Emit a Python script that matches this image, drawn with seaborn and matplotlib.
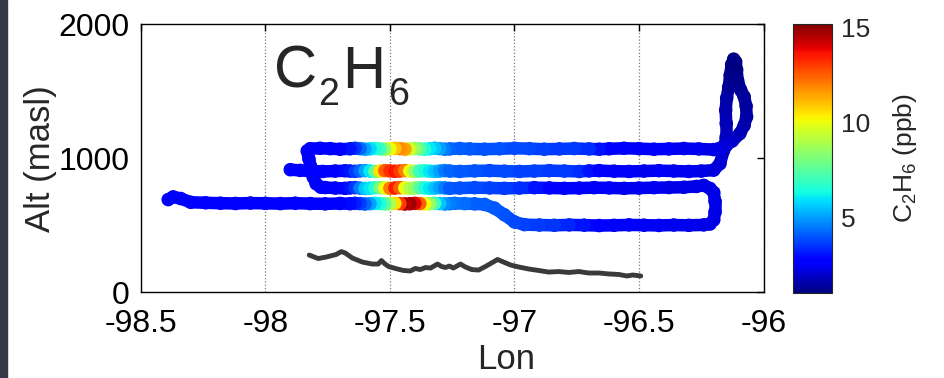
import numpy as np
import pandas as pd
import seaborn as sns
import matplotlib
matplotlib.use("Agg")
import matplotlib.pyplot as plt
from matplotlib.collections import LineCollection
from matplotlib.colors import Normalize
from matplotlib.patches import Rectangle
from matplotlib.cm import ScalarMappable

# ---- flight track, read off the picture leg by leg (in flight order) ----
# leg at ~905 m, flown east
l2_lon = [-97.90, -97.86, -97.82, -97.77, -97.72, -97.68,
          -97.66, -97.64, -97.62, -97.60, -97.58, -97.56, -97.54, -97.52, -97.50, -97.48, -97.46,
          -97.44, -97.42, -97.40, -97.38, -97.36, -97.34, -97.32, -97.30, -97.28, -97.26,
          -97.22, -97.16, -97.10, -97.04, -96.98, -96.92, -96.86, -96.80, -96.74,
          -96.70, -96.66, -96.60, -96.54, -96.48, -96.42, -96.36, -96.30, -96.25, -96.20]
l2_alt = [915, 910, 905, 902, 905, 907,
          905, 903, 906, 908, 905, 902, 905, 908, 906, 903, 905,
          908, 905, 902, 905, 907, 904, 902, 905, 908, 905,
          902, 906, 908, 904, 902, 905, 908, 905, 902,
          906, 908, 904, 902, 905, 908, 905, 902, 905, 912]
l2_ppb = [2.6, 2.6, 2.5, 2.6, 2.7, 2.9,
          3.0, 3.6, 4.2, 5.0, 6.0, 7.5, 10.5, 12.5, 13.2, 13.6, 13.0,
          12.0, 10.0, 8.5, 7.0, 6.5, 6.0, 5.5, 5.0, 4.5, 4.2,
          4.0, 3.9, 3.8, 3.8, 3.7, 3.7, 3.6, 3.6, 3.4,
          3.0, 2.6, 2.5, 2.5, 2.4, 2.5, 2.4, 2.4, 2.3, 2.2]

# climb to the top of the profile and back down
sp_lon = [-96.175, -96.160, -96.150, -96.150, -96.152, -96.148, -96.140, -96.134, -96.128, -96.120, -96.112,
          -96.108, -96.104, -96.092, -96.078, -96.070, -96.068, -96.078, -96.095, -96.125, -96.150, -96.175]
sp_alt = [960, 1060, 1160, 1260, 1360, 1450, 1530, 1620, 1700, 1740, 1720,
          1660, 1580, 1510, 1460, 1390, 1310, 1245, 1185, 1130, 1095, 1075]
sp_ppb = [2.1, 1.9, 1.8, 1.7, 1.6, 1.5, 1.3, 1.2, 1.1, 1.05, 1.1,
          1.1, 1.2, 1.3, 1.35, 1.4, 1.5, 1.6, 1.7, 1.9, 2.1, 2.2]

# top leg at ~1070 m, flown west
l1_lon = [-96.20, -96.26, -96.32, -96.38, -96.44, -96.50, -96.56, -96.62, -96.66, -96.70,
          -96.76, -96.82, -96.88, -96.94, -97.00, -97.06, -97.12, -97.18, -97.22,
          -97.26, -97.28, -97.30, -97.32, -97.34, -97.36, -97.38, -97.40, -97.42, -97.44, -97.46,
          -97.48, -97.50, -97.52, -97.54, -97.56, -97.58, -97.60, -97.62, -97.64, -97.66,
          -97.70, -97.74, -97.78, -97.82]
l1_alt = [1065, 1070, 1073, 1070, 1068, 1072, 1075, 1071, 1068, 1070,
          1073, 1070, 1068, 1072, 1075, 1071, 1068, 1070, 1073,
          1070, 1068, 1072, 1075, 1071, 1068, 1070, 1073, 1070, 1068, 1072,
          1075, 1071, 1068, 1070, 1073, 1070, 1068, 1072, 1075, 1071,
          1068, 1072, 1075, 1072]
l1_ppb = [2.3, 2.4, 2.4, 2.5, 2.5, 2.5, 2.6, 2.7, 3.0, 3.4,
          3.6, 3.6, 3.7, 3.8, 3.8, 3.9, 3.9, 4.0, 4.1,
          4.2, 4.5, 5.0, 5.5, 6.0, 6.5, 7.5, 8.5, 9.5, 11.5, 11.8,
          11.0, 10.0, 8.5, 7.0, 6.5, 5.8, 5.0, 4.2, 3.5, 3.0,
          2.7, 2.6, 2.6, 2.6]

# hook down to the third leg
hk_lon = [-97.832, -97.825, -97.816, -97.808, -97.796, -97.778]
hk_alt = [1055, 995, 930, 860, 810, 785]
hk_ppb = [2.6, 2.6, 2.6, 2.6, 2.6, 2.6]

# leg at ~780 m, flown east
l3_lon = [-97.76, -97.72, -97.68,
          -97.66, -97.64, -97.62, -97.60, -97.58, -97.56, -97.54, -97.52, -97.50, -97.48, -97.46,
          -97.44, -97.42, -97.40, -97.38, -97.36, -97.34, -97.32, -97.30, -97.28, -97.26,
          -97.22, -97.16, -97.10, -97.04, -96.98, -96.92, -96.86, -96.80, -96.74,
          -96.68, -96.62, -96.56, -96.50, -96.44, -96.38, -96.32, -96.27, -96.24]
l3_alt = [782, 778, 776,
          779, 781, 778, 775, 777, 780, 782, 779, 776, 778, 781,
          779, 776, 778, 781, 779, 776, 778, 781, 779, 776,
          778, 781, 779, 776, 778, 781, 779, 776, 778,
          781, 779, 776, 778, 781, 782, 784, 790, 798]
l3_ppb = [2.6, 2.7, 2.8,
          3.0, 3.5, 4.5, 5.5, 6.0, 6.5, 8.0, 10.0, 12.0, 13.5, 12.5,
          10.0, 9.0, 8.5, 7.5, 6.5, 6.0, 5.5, 5.0, 4.5, 4.0,
          3.9, 3.8, 3.7, 3.6, 3.4, 3.0, 2.7, 2.6, 2.5,
          2.5, 2.5, 2.4, 2.4, 2.4, 2.3, 2.3, 2.3, 2.3]

# turn down to the lowest leg
lp_lon = [-96.215, -96.200, -96.195, -96.195, -96.200, -96.215]
lp_alt = [775, 745, 680, 600, 540, 510]
lp_ppb = [2.3, 2.3, 2.3, 2.3, 2.3, 2.3]

# leg at ~500 m, flown west, then climb
l5_lon = [-96.24, -96.30, -96.36, -96.42, -96.48, -96.54, -96.60, -96.66, -96.72,
          -96.78, -96.84, -96.90, -96.96, -97.00, -97.04, -97.08, -97.12]
l5_alt = [503, 500, 502, 499, 501, 503, 500, 498, 501,
          503, 500, 502, 505, 525, 578, 628, 656]
l5_ppb = [2.3, 2.4, 2.4, 2.5, 2.5, 2.6, 2.6, 2.7, 3.0,
          3.3, 3.5, 3.6, 3.7, 3.8, 3.9, 4.0, 4.1]

# leg at ~665 m, flown west to the end
l4_lon = [-97.16, -97.20, -97.24,
          -97.26, -97.28, -97.30, -97.32, -97.34, -97.36, -97.38, -97.40, -97.42, -97.44, -97.46,
          -97.48, -97.50, -97.52, -97.54, -97.56, -97.58, -97.60, -97.62, -97.64, -97.66,
          -97.70, -97.76, -97.82, -97.88, -97.94, -98.00, -98.06, -98.12, -98.18, -98.24,
          -98.30, -98.34, -98.37, -98.39]
l4_alt = [660, 662, 664,
          661, 659, 662, 664, 661, 659, 662, 664, 661, 659, 662,
          664, 661, 659, 662, 664, 661, 659, 662, 664, 661,
          663, 660, 662, 665, 662, 664, 666, 663, 665, 668,
          672, 700, 712, 692]
l4_ppb = [4.1, 4.3, 4.4,
          4.5, 4.8, 5.5, 7.0, 8.5, 10.0, 12.5, 14.0, 14.8, 14.5, 13.0,
          10.5, 9.0, 7.5, 6.5, 6.0, 5.0, 4.2, 3.6, 3.2, 2.9,
          2.7, 2.6, 2.6, 2.6, 2.6, 2.6, 2.6, 2.6, 2.6, 2.6,
          2.6, 2.6, 2.6, 2.6]

# ground elevation under the track
ground_lon = [-97.824, -97.788, -97.756, -97.716, -97.695, -97.679, -97.651, -97.611, -97.571,
              -97.547, -97.534, -97.522, -97.506, -97.478, -97.446, -97.418, -97.398, -97.378,
              -97.357, -97.337, -97.309, -97.293, -97.277, -97.261, -97.245, -97.217, -97.197,
              -97.172, -97.144, -97.116, -97.092, -97.068, -97.044, -97.016, -96.983, -96.943,
              -96.903, -96.863, -96.822, -96.782, -96.742, -96.702, -96.661, -96.621, -96.581,
              -96.549, -96.525, -96.493]
ground_alt = [278, 252, 263, 282, 304, 293, 256, 226, 211,
              211, 237, 215, 193, 178, 163, 159, 178, 170,
              185, 181, 211, 193, 185, 196, 181, 211, 189,
              170, 166, 193, 219, 245, 226, 204, 189, 174,
              163, 151, 155, 148, 155, 144, 144, 137, 133,
              122, 129, 122]

x_ticks = [-98.5, -98, -97.5, -97, -96.5, -96]
x_labels = ["-98.5", "-98", "-97.5", "-97", "-96.5", "-96"]
y_ticks = [0, 1000, 2000]
cbar_ticks = [5, 10, 15]
cmin, cmax = 1.0, 15.2

track = pd.DataFrame({
    "lon": l2_lon + sp_lon + l1_lon + hk_lon + l3_lon + lp_lon + l5_lon + l4_lon,
    "alt": l2_alt + sp_alt + l1_alt + hk_alt + l3_alt + lp_alt + l5_alt + l4_alt,
    "ppb": l2_ppb + sp_ppb + l1_ppb + hk_ppb + l3_ppb + lp_ppb + l5_ppb + l4_ppb,
})

sns.set_style("white")
plt.rcParams["font.family"] = ["Liberation Sans", "DejaVu Sans"]
plt.rcParams["mathtext.fontset"] = "custom"
plt.rcParams["mathtext.rm"] = "Liberation Sans"
plt.rcParams["mathtext.it"] = "Liberation Sans:italic"
plt.rcParams["mathtext.bf"] = "Liberation Sans:bold"

fig = plt.figure(figsize=(9.45, 3.78), dpi=100)
fig.add_artist(Rectangle((0, 0), 7 / 945, 1, transform=fig.transFigure,
                         color="#363a48", zorder=0))
ax = fig.add_axes([0.149, 0.2267, 0.659, 0.7090])
cax = fig.add_axes([0.8395, 0.2249, 0.0406, 0.7116])

norm = Normalize(cmin, cmax)
cmap = matplotlib.colormaps["jet"]

# thick coloured path under the markers so the track reads as one worm
pts = track[["lon", "alt"]].to_numpy()
segs = np.stack([pts[:-1], pts[1:]], axis=1)
lc = LineCollection(segs, cmap=cmap, norm=norm, linewidths=9,
                    capstyle="round", joinstyle="round", zorder=2)
lc.set_array(track["ppb"].to_numpy()[:-1])
ax.add_collection(lc)

sns.scatterplot(data=track, x="lon", y="alt", hue="ppb", palette=cmap,
                hue_norm=norm, s=95, edgecolor="none", linewidth=0,
                legend=False, ax=ax, zorder=3)

sns.lineplot(x=ground_lon, y=ground_alt, color="#3a3a3a", lw=3.5,
             sort=False, estimator=None, ax=ax, zorder=2)

ax.set_xlim(-98.5, -96)
ax.set_ylim(0, 2000)
ax.set_xticks(x_ticks)
ax.set_xticklabels(x_labels)
ax.set_yticks(y_ticks)
ax.set_yticklabels([str(v) for v in y_ticks])
ax.grid(axis="x", linestyle=":", color="#7a7a7a", lw=0.9)
ax.grid(axis="y", visible=False)
ax.tick_params(direction="in", length=5, width=1, top=True, right=True,
               labelsize=23, colors="black")
ax.tick_params(axis="x", pad=12)
ax.tick_params(axis="y", pad=8)
for sp in ax.spines.values():
    sp.set_color("black")
    sp.set_linewidth(1.0)

ax.set_xlabel("Lon", fontsize=25, va="baseline")
ax.xaxis.set_label_coords(0.586, -0.286)
ax.set_ylabel("Alt (masl)", fontsize=25, ha="center", va="baseline")
ax.yaxis.set_label_coords(-0.146, 0.5)

# big species label, subscripts set lower like the original
for txt, size, dx, dy in [("C", 43, 0, 0), ("2", 27, 31.7, -12.2),
                          ("H", 43, 49, 0), ("6", 27, 82, -12.2)]:
    ax.annotate(txt, xy=(-97.965, 1525), xycoords="data", xytext=(dx, dy),
                textcoords="offset points", fontsize=size, ha="left", va="baseline")

sm = ScalarMappable(norm=norm, cmap=cmap)
cbar = fig.colorbar(sm, cax=cax, ticks=cbar_ticks)
cbar.outline.set_linewidth(0.8)
cbar.ax.tick_params(direction="in", length=4, width=0.8, left=True, right=True,
                    labelsize=19, pad=7)
cbar.ax.set_ylabel(r"C$_2$H$_6$ (ppb)", fontsize=19, rotation=90,
                   ha="center", va="baseline")
cbar.ax.yaxis.set_label_coords(3.1, 0.5)

fig.savefig("out.png", dpi=100, facecolor="white")
